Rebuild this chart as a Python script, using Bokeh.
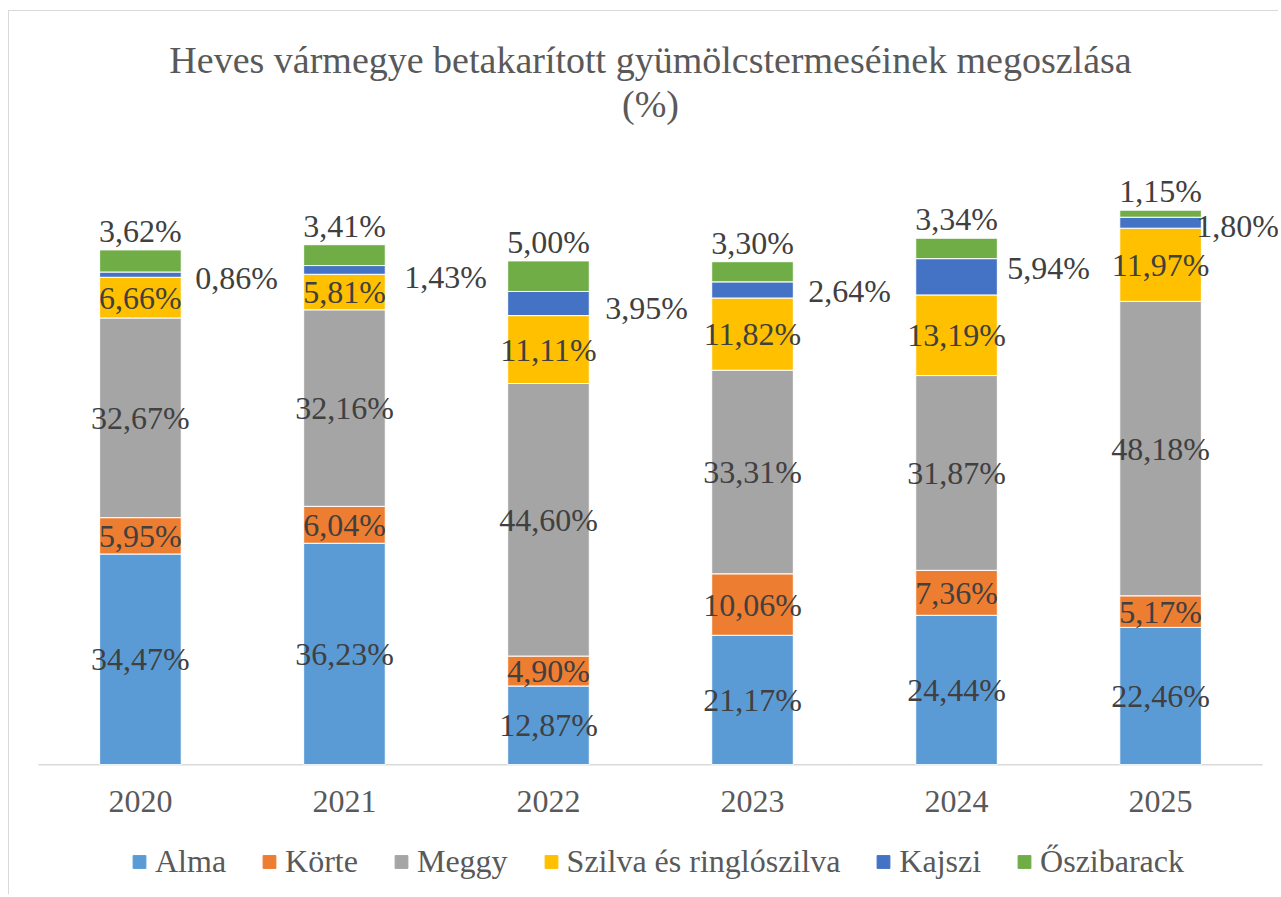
from bokeh.plotting import figure
from bokeh.models import ColumnDataSource, Range1d, Title, Legend, FixedTicker
from bokeh.layouts import column
from bokeh.transform import dodge
from bokeh.core.properties import value
from bokeh.embed import file_html
from bokeh.resources import INLINE

# ---------------- data ----------------
years = ["2020", "2021", "2022", "2023", "2024", "2025"]
alma = [34.47, 36.23, 12.87, 21.17, 24.44, 22.46]
korte = [5.95, 6.04, 4.90, 10.06, 7.36, 5.17]
meggy = [32.67, 32.16, 44.60, 33.31, 31.87, 48.18]
szilva = [6.66, 5.81, 11.11, 11.82, 13.19, 11.97]
kajszi = [0.86, 1.43, 3.95, 2.64, 5.94, 1.80]
oszibarack = [3.62, 3.41, 5.00, 3.30, 3.34, 1.15]
series_names = ["Alma", "Körte", "Meggy", "Szilva és ringlószilva", "Kajszi", "Őszibarack"]
title_line1 = "Heves vármegye betakarított gyümölcstermeséinek megoszlása"
title_line2 = "(%)"

# ---------------- styles ----------------
colors = ["#5B9BD5", "#ED7D31", "#A5A5A5", "#FFC000", "#4472C4", "#70AD47"]
FONT = "Liberation Serif"
LABEL_COLOR = "#404040"
AXIS_COLOR = "#595959"
GRID_COLOR = "#d9d9d9"
kajszi_dx = [14, 19, 16, 15, 10, -5]   # label offsets (px) right of the bar edge
kajszi_dy = [3, 7, 4, 1, -9, 3]        # vertical nudges (px, downwards)
PAD = 0.083                            # side padding of the x range (category units)
LEFT = 12                              # left border (px) shared by both strips


def fmt(v):
    return f"{v:.2f}".replace(".", ",") + "%"


n = len(years)
xpos = list(range(n))
series = [alma, korte, meggy, szilva, kajszi, oszibarack]
keys = [f"s{i}" for i in range(len(series))]
data = {"x": xpos, "zero": [0.0] * n}
for k, s in zip(keys, series):
    data[k] = s
src = ColumnDataSource(data)

p = figure(
    x_range=Range1d(-0.5 - PAD, n - 0.5 + PAD),
    y_range=Range1d(-0.3, 104.75),
    width=1270, height=822,
    output_backend="svg", toolbar_location=None, title=None,
    y_axis_location=None,
    min_border_left=LEFT, min_border_right=0,
    min_border_top=113, min_border_bottom=67,
)
p.styles = {"border-left": "1px solid #d9d9d9", "border-top": "1px solid #d9d9d9"}

# baseline (category axis line) spanning the categories only
p.segment(x0=dodge("x", -0.5), x1=dodge("x", 0.5),
          y0="zero", y1="zero", source=src, line_color=GRID_COLOR, line_width=1.5)

renderers = p.vbar_stack(keys, x="x", width=0.4, color=colors, source=src,
                         line_color="white", line_width=1)

# labels
cum = [0.0] * n
lx, ly, lt = [], [], []
kx, ky, kt = [], [], []
for si, s in enumerate(series):
    for j, v in enumerate(s):
        mid = cum[j] + v / 2.0
        if si < 4:
            lx.append(xpos[j]); ly.append(mid); lt.append(fmt(v))
        elif si == 4:
            kx.append(xpos[j]); ky.append(mid); kt.append(fmt(v))
        cum[j] += v
totals = list(cum)

inside = ColumnDataSource(dict(x=lx, y=ly, text=lt))
p.text(x="x", y="y", text="text", source=inside,
       text_align="center", text_baseline="middle",
       text_font=value(FONT), text_font_size="32px", text_color=LABEL_COLOR)

kaj = ColumnDataSource(dict(x=kx, y=ky, text=kt, dx=kajszi_dx, dy=kajszi_dy))
p.text(x=dodge("x", 0.2), y="y", text="text", source=kaj,
       x_offset="dx", y_offset="dy",
       text_align="left", text_baseline="middle",
       text_font=value(FONT), text_font_size="32px", text_color=LABEL_COLOR)

top = ColumnDataSource(dict(x=xpos, y=totals, text=[fmt(v) for v in oszibarack]))
p.text(x="x", y="y", text="text", source=top, y_offset=-19,
       text_align="center", text_baseline="middle",
       text_font=value(FONT), text_font_size="32px", text_color=LABEL_COLOR)

# axes
p.grid.visible = False
p.outline_line_color = None
xa = p.xaxis[0]
xa.ticker = FixedTicker(ticks=xpos)
xa.major_label_overrides = {i: y for i, y in zip(xpos, years)}
xa.axis_line_color = None
xa.major_tick_line_color = None
xa.minor_tick_line_color = None
xa.major_label_standoff = 18
xa.major_label_text_font = FONT
xa.major_label_text_font_size = "32px"
xa.major_label_text_color = AXIS_COLOR

# title (two centred lines)
t2 = Title(text=title_line2, align="center", text_font=FONT, text_font_size="38px",
           text_font_style="normal", text_color=AXIS_COLOR, standoff=0)
t1 = Title(text=title_line1, align="center", text_font=FONT, text_font_size="38px",
           text_font_style="normal", text_color=AXIS_COLOR, standoff=0)
p.add_layout(t2, "above")
p.add_layout(t1, "above")

# legend strip below the chart (its bars lie outside its visible range)
p2 = figure(width=1270, height=62, x_range=Range1d(-20, -19), y_range=Range1d(0, 1),
            output_backend="svg", toolbar_location=None, title=None,
            x_axis_location=None, y_axis_location=None,
            min_border_left=LEFT, min_border_right=0,
            min_border_top=0, min_border_bottom=4)
p2.styles = {"border-left": "1px solid #d9d9d9"}
p2.grid.visible = False
p2.outline_line_color = None
legend_renderers = p2.vbar_stack(keys, x="x", width=0.4, color=colors, source=src)
lg = Legend(items=[(nm, [r]) for nm, r in zip(series_names, legend_renderers)],
            orientation="horizontal", location="left",
            padding=0, margin=110, spacing=35,
            glyph_width=16, glyph_height=16, label_standoff=8,
            label_text_font=FONT, label_text_font_size="32px",
            label_text_color=AXIS_COLOR,
            border_line_color=None, background_fill_alpha=0)
p2.add_layout(lg, "center")

layout = column(p, p2, spacing=0)
layout.styles = {"margin-left": "8px", "margin-top": "10px"}

open("out.html", "w").write(file_html(layout, INLINE))
